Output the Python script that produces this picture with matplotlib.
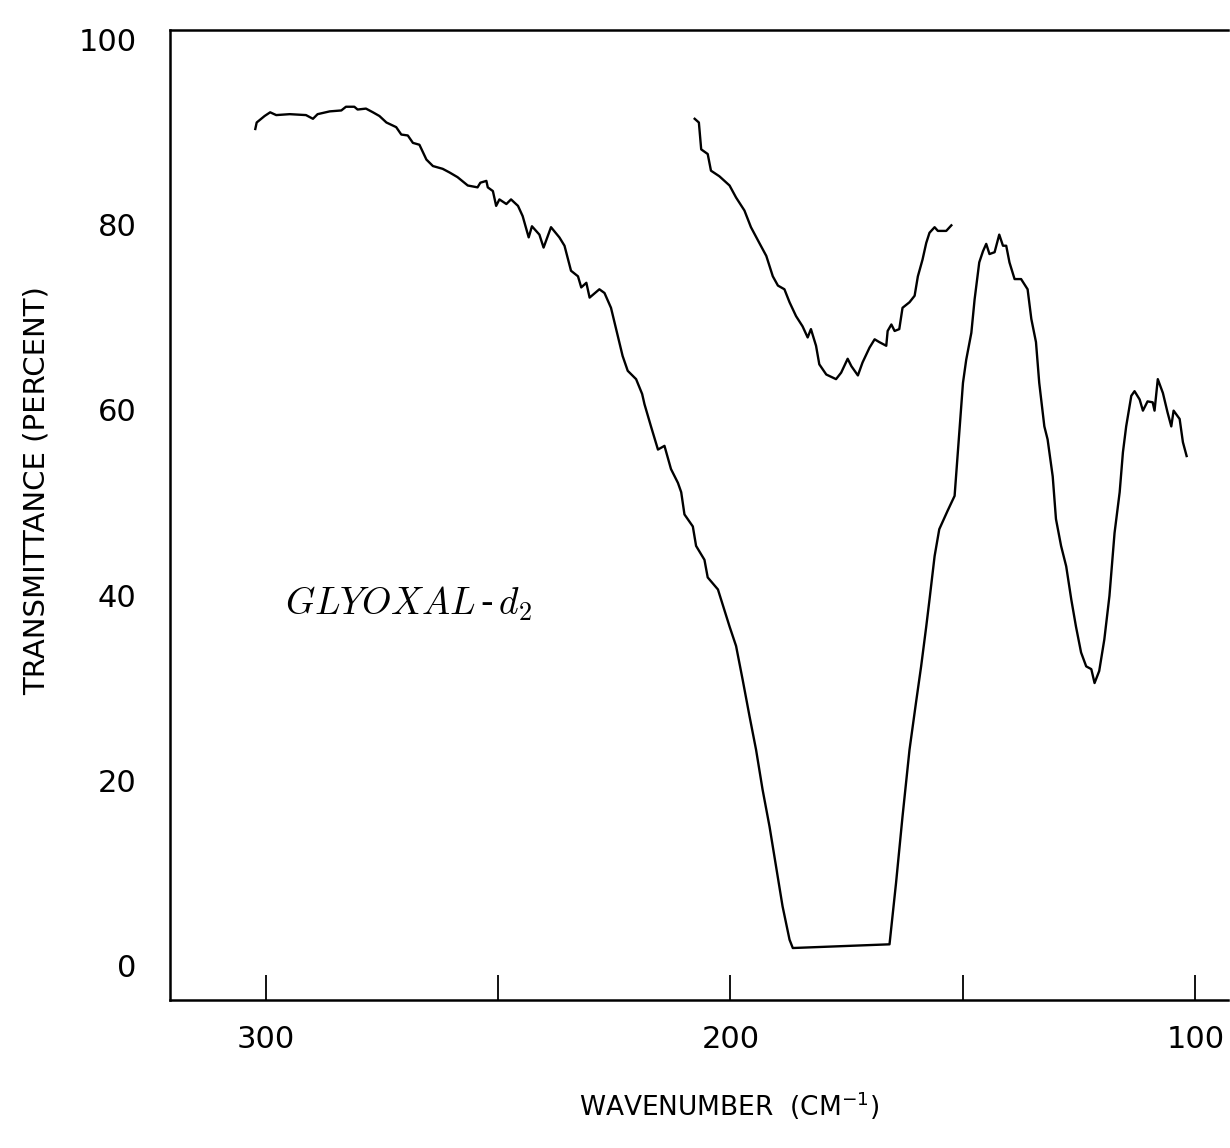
import matplotlib
matplotlib.use("Agg")
import matplotlib.pyplot as plt

# main trace (wavenumber cm-1, transmittance %)
main_wn = [302.2, 301.9, 300.2, 299.0, 297.7, 294.8, 291.3, 289.8, 288.8, 286.2,
           283.7, 282.7, 280.9, 280.2, 278.4, 276.9, 275.5, 274.0, 271.9, 270.8,
           269.4, 268.3, 266.9, 265.4, 264.0, 261.9, 260.4, 258.7, 256.5, 254.4,
           253.8, 252.5, 252.2, 251.1, 250.4, 249.7, 248.2, 247.2, 245.7, 244.7,
           243.4, 242.7, 241.1, 240.2, 238.6, 236.8, 235.7, 234.3, 232.8, 232.1,
           231.0, 230.3, 228.2, 227.1, 225.7, 224.6, 223.2, 222.1, 220.3, 219.0,
           218.5, 217.1, 215.6, 214.2, 212.8, 211.3, 210.6, 209.9, 208.1, 207.4,
           205.6, 204.9, 202.7, 201.7, 200.2, 198.8, 197.4, 195.9, 194.5, 193.1,
           191.6, 190.2, 188.8, 187.3, 186.6, 165.8, 164.4, 163.0, 161.5, 160.1,
           159.0, 157.9, 157.2, 156.1, 155.1, 153.3, 151.8, 150.8, 150.0, 149.3,
           148.2, 147.5, 146.5, 145.7, 145.0, 144.3, 143.2, 142.2, 141.4, 140.7,
           140.0, 138.9, 137.5, 136.1, 135.3, 134.3, 133.6, 132.5, 131.8, 130.7,
           130.0, 128.9, 127.8, 126.7, 125.7, 124.6, 123.5, 122.4, 121.7, 120.7,
           119.6, 118.5, 117.4, 116.3, 115.6, 114.9, 113.8, 113.1, 112.0, 111.3,
           110.3, 109.2, 108.8, 108.1, 107.0, 106.0, 105.2, 104.7, 103.4, 102.7,
           101.9]
main_t = [90.3, 91.0, 91.7, 92.1, 91.8, 91.9, 91.8, 91.4, 91.9, 92.2,
          92.3, 92.7, 92.7, 92.4, 92.5, 92.1, 91.7, 91.0, 90.5, 89.7,
          89.6, 88.8, 88.6, 87.0, 86.3, 86.0, 85.6, 85.1, 84.2, 84.0,
          84.5, 84.7, 84.0, 83.6, 82.0, 82.7, 82.2, 82.7, 82.0, 80.9,
          78.6, 79.8, 78.9, 77.5, 79.7, 78.6, 77.7, 75.0, 74.4, 73.2,
          73.7, 72.1, 73.0, 72.6, 71.0, 68.7, 65.8, 64.2, 63.3, 61.7,
          60.6, 58.2, 55.7, 56.1, 53.6, 52.1, 51.1, 48.7, 47.4, 45.3,
          43.8, 41.9, 40.6, 39.0, 36.6, 34.5, 30.9, 26.9, 23.3, 19.0,
          15.0, 10.7, 6.4, 2.8, 1.9, 2.3, 8.9, 16.1, 23.3, 28.4,
          32.3, 36.6, 39.5, 44.2, 47.1, 49.1, 50.7, 57.5, 62.9, 65.4,
          68.3, 71.9, 75.9, 77.1, 77.9, 76.8, 77.0, 78.9, 77.7, 77.7,
          75.9, 74.1, 74.1, 73.0, 69.8, 67.3, 62.9, 58.2, 56.8, 52.8,
          48.2, 45.3, 43.1, 39.5, 36.6, 33.8, 32.3, 32.0, 30.5, 31.8,
          35.2, 39.9, 46.7, 51.1, 55.4, 58.2, 61.5, 62.0, 61.1, 59.9,
          60.9, 60.8, 59.9, 63.3, 61.8, 59.7, 58.2, 59.9, 59.0, 56.5,
          55.0]

# second (upper) trace
upper_wn = [207.7, 206.8, 206.3, 204.9, 204.2, 202.4, 200.2, 198.8, 197.0, 195.6,
            193.8, 192.3, 190.9, 189.8, 188.4, 187.3, 185.9, 184.5, 183.4, 182.7,
            181.6, 180.9, 179.4, 177.3, 176.2, 174.8, 174.0, 172.6, 171.6, 170.1,
            169.0, 168.0, 166.5, 166.2, 165.4, 164.7, 163.7, 163.0, 161.5, 160.4,
            159.7, 158.7, 157.9, 157.2, 156.1, 155.4, 153.6, 152.5]
upper_t = [91.4, 91.0, 88.1, 87.6, 85.8, 85.2, 84.2, 82.9, 81.5, 79.7,
           78.0, 76.6, 74.4, 73.4, 73.0, 71.6, 70.1, 69.0, 67.8, 68.7,
           66.9, 64.9, 63.8, 63.3, 64.0, 65.5, 64.7, 63.7, 65.1, 66.7,
           67.6, 67.3, 66.9, 68.5, 69.2, 68.5, 68.7, 71.0, 71.6, 72.3,
           74.4, 76.2, 78.0, 79.1, 79.7, 79.3, 79.3, 79.9]

x_ticks = [300, 250, 200, 150, 100]
x_labels = ["300", "", "200", "", "100"]
y_ticks = [0, 20, 40, 60, 80, 100]

fig = plt.figure(figsize=(12.3, 11.48), dpi=100)
ax = fig.add_axes([0.138, 0.129, 0.86, 0.845])

ax.plot(main_wn, main_t, color="black", lw=1.7)
ax.plot(upper_wn, upper_t, color="black", lw=1.7)

ax.set_xlim(320.6, 93.1)
ax.set_ylim(-3.7, 101.0)

ax.set_xticks(x_ticks)
ax.set_xticklabels(x_labels)
ax.set_yticks(y_ticks)
ax.tick_params(axis="x", direction="in", length=18, width=1.3, pad=18,
               labelsize=22)
ax.tick_params(axis="y", length=0, pad=24, labelsize=22)

for side in ["left", "bottom", "top"]:
    ax.spines[side].set_linewidth(1.8)
ax.spines["right"].set_visible(False)

# axis titles placed on the figure so nothing is clipped
fig.text(0.593, 0.037, "WAVENUMBER  (CM$^{-1}$)", fontsize=19,
         ha="center", va="center")
fig.text(0.030, 0.573, "TRANSMITTANCE (PERCENT)", fontsize=21,
         rotation=90, ha="center", va="center")

ax.text(295.9, 39.0, r"$GLYOXAL\,$-$\,d_2$", fontsize=27, va="center",
        ha="left", math_fontfamily="cm", family="serif")

fig.savefig("out.png", dpi=100)
